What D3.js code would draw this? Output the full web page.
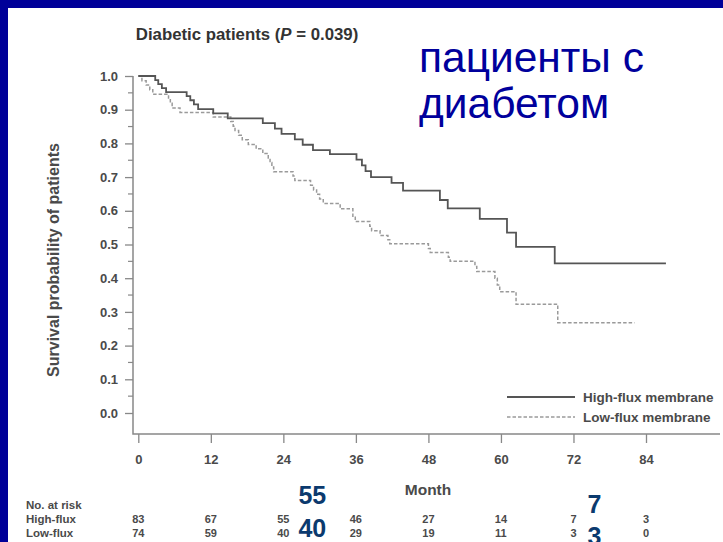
<!DOCTYPE html>
<html>
<head>
<meta charset="utf-8">
<script src="https://cdn.jsdelivr.net/npm/d3@7"></script>
<style>
  html, body { margin: 0; padding: 0; background: #fff; }
  svg { display: block; font-family: "Liberation Sans", Arial, sans-serif; }
</style>
</head>
<body>
<svg id="chart" width="723" height="542"></svg>
<script>
// Kaplan-Meier steps (month, survival after the drop)
const highTimes = [0, 2.8, 3.3, 3.9, 4.6, 8.0, 8.6, 9.2, 9.9, 12.4, 14.8, 20.6, 22.6, 23.7, 25.9, 27.2, 28.9, 31.7,
    36.1, 37.0, 37.6, 38.5, 41.9, 43.8, 49.9, 51.2, 56.5, 61.0, 62.5, 68.9, 87.3];
const highSurv = [1.0, 0.988, 0.976, 0.964, 0.952, 0.940, 0.928, 0.916, 0.902, 0.889, 0.874, 0.860, 0.844, 0.828, 0.812, 0.796, 0.780, 0.768,
    0.752, 0.735, 0.718, 0.700, 0.683, 0.660, 0.632, 0.607, 0.576, 0.535, 0.493, 0.444, 0.444];

const lowTimes = [0, 0.6, 1.3, 1.9, 2.4, 5.0, 5.3, 5.6, 6.9, 12.4, 15.3, 15.7, 16.0, 16.6, 17.2, 18.2, 19.5, 20.6, 21.5, 21.8, 22.1, 22.4,
    25.6, 25.9, 28.5, 29.0, 29.5, 30.0, 30.6, 33.4, 35.5, 35.9, 38.3, 38.6, 40.0, 41.3, 41.6, 48.0, 48.3, 51.3, 51.6, 55.7, 56.0,
    59.0, 59.4, 59.8, 62.5, 69.4, 82.1];
const lowSurv = [1.0, 0.986, 0.973, 0.959, 0.946, 0.932, 0.919, 0.905, 0.892, 0.878, 0.865, 0.851, 0.838, 0.824, 0.811, 0.797, 0.784, 0.770, 0.757, 0.743, 0.730, 0.716,
    0.703, 0.690, 0.676, 0.662, 0.649, 0.635, 0.622, 0.606, 0.581, 0.568, 0.554, 0.541, 0.527, 0.514, 0.502, 0.488, 0.476, 0.462, 0.450, 0.435, 0.420,
    0.400, 0.380, 0.360, 0.323, 0.268, 0.268];

const monthTicks = [0, 12, 24, 36, 48, 60, 72, 84];
const survTicks = [0, 0.1, 0.2, 0.3, 0.4, 0.5, 0.6, 0.7, 0.8, 0.9, 1.0];
const riskHigh = [83, 67, 55, 46, 27, 14, 7, 3];
const riskLow = [74, 59, 40, 29, 19, 11, 3, 0];
const seriesNames = ["High-flux membrane", "Low-flux membrane"];
const riskRows = ["High-flux", "Low-flux"];

const svg = d3.select("#chart");
const grey = "#4a4a4a";

const x = d3.scaleLinear().domain([0, 84]).range([138.3, 646]);
const y = d3.scaleLinear().domain([0, 1]).range([413, 76]);
const frameLeft = 133, frameBottom = 434, frameRight = 720;

// slide frame (blue band top and left)
svg.append("rect").attr("x", 0).attr("y", 0).attr("width", 723).attr("height", 8).attr("fill", "#000099");
svg.append("rect").attr("x", 0).attr("y", 0).attr("width", 8).attr("height", 542).attr("fill", "#000099");

// title
const title = svg.append("text")
    .attr("x", 247).attr("y", 40)
    .attr("text-anchor", "middle")
    .attr("font-size", 16.8).attr("font-weight", "bold").attr("fill", "#333");
title.append("tspan").text("Diabetic patients (");
title.append("tspan").attr("font-style", "italic").text("P");
title.append("tspan").text(" = 0.039)");

// russian caption
const cap = svg.append("text").attr("font-size", 42.5).attr("fill", "#00009c");
cap.append("tspan").attr("x", 419).attr("y", 72).text("пациенты с");
cap.append("tspan").attr("x", 419).attr("y", 118).text("диабетом");

// axes
const yAxis = svg.append("g")
    .attr("transform", `translate(${frameLeft},0)`)
    .call(d3.axisLeft(y).tickValues(survTicks).tickSize(8).tickPadding(7).tickFormat(d3.format(".1f")));
yAxis.select(".domain").remove();
yAxis.selectAll("line").attr("stroke", "#888").attr("stroke-width", 1.3);
yAxis.selectAll("text").attr("font-size", 13).attr("font-weight", "bold").attr("fill", grey)
    .attr("font-family", "'Liberation Sans', Arial, sans-serif");

// minor ticks
svg.append("g").selectAll("line")
    .data(survTicks.slice(0, -1).map(d => d + 0.05))
    .join("line")
    .attr("x1", frameLeft - 5).attr("x2", frameLeft)
    .attr("y1", d => y(d)).attr("y2", d => y(d))
    .attr("stroke", "#888").attr("stroke-width", 1.2);

const xAxis = svg.append("g")
    .attr("transform", `translate(0,${frameBottom})`)
    .call(d3.axisBottom(x).tickValues(monthTicks).tickSize(9).tickPadding(12));
xAxis.select(".domain").remove();
xAxis.selectAll("line").attr("stroke", "#888").attr("stroke-width", 1.3);
xAxis.selectAll("text").attr("font-size", 13).attr("font-weight", "bold").attr("fill", grey)
    .attr("font-family", "'Liberation Sans', Arial, sans-serif");

// frame lines
svg.append("path")
    .attr("d", `M${frameLeft},${y(1)}V${frameBottom}H${frameRight}`)
    .attr("fill", "none").attr("stroke", "#888").attr("stroke-width", 1.5);

// axis titles
svg.append("text")
    .attr("transform", "translate(59,260) rotate(-90)")
    .attr("text-anchor", "middle")
    .attr("font-size", 16).attr("font-weight", "bold").attr("fill", grey)
    .text("Survival probability of patients");

svg.append("text")
    .attr("x", 428).attr("y", 495)
    .attr("text-anchor", "middle")
    .attr("font-size", 15.5).attr("font-weight", "bold").attr("fill", grey)
    .text("Month");

// curves
const step = d3.line().x(d => x(d[0])).y(d => y(d[1])).curve(d3.curveStepAfter);

svg.append("path")
    .datum(lowTimes.map((t, i) => [t, lowSurv[i]]))
    .attr("d", step)
    .attr("fill", "none").attr("stroke", "#9a9a9a").attr("stroke-width", 1.5)
    .attr("stroke-dasharray", "3.5,2");

svg.append("path")
    .datum(highTimes.map((t, i) => [t, highSurv[i]]))
    .attr("d", step)
    .attr("fill", "none").attr("stroke", "#555").attr("stroke-width", 1.8);

// legend
const legend = svg.append("g");
seriesNames.forEach((name, i) => {
    const ly = 397 + i * 20;
    legend.append("line")
        .attr("x1", 507).attr("x2", 575).attr("y1", ly).attr("y2", ly)
        .attr("stroke", i === 0 ? "#555" : "#9a9a9a")
        .attr("stroke-width", i === 0 ? 1.8 : 1.5)
        .attr("stroke-dasharray", i === 0 ? null : "3.5,2");
    legend.append("text")
        .attr("x", 583).attr("y", ly + 5)
        .attr("font-size", 13.5).attr("font-weight", "bold").attr("fill", grey)
        .text(name);
});

// number at risk table
svg.append("text").attr("x", 26).attr("y", 509)
    .attr("font-size", 11.5).attr("font-weight", "bold").attr("fill", grey)
    .text("No. at risk");

[riskHigh, riskLow].forEach((row, r) => {
    const ry = 523 + r * 14;
    svg.append("text").attr("x", 26).attr("y", ry)
        .attr("font-size", 11.5).attr("font-weight", "bold").attr("fill", grey)
        .text(riskRows[r]);
    svg.append("g").selectAll("text")
        .data(row)
        .join("text")
        .attr("x", (d, i) => x(monthTicks[i]))
        .attr("y", ry)
        .attr("text-anchor", "middle")
        .attr("font-size", 11).attr("font-weight", "bold").attr("fill", grey)
        .text(d => d);
});

// large overlay numbers at 24 and 72 months
const overlay = [
    { m: 24, i: 2 },
    { m: 72, i: 6 }
];
overlay.forEach(o => {
    const cx = x(o.m) + (o.m === 24 ? 29 : 21);
    svg.append("text").attr("x", cx).attr("y", o.m === 24 ? 504 : 513)
        .attr("text-anchor", "middle")
        .attr("font-size", 25).attr("font-weight", "bold").attr("fill", "#0b3a6e")
        .text(riskHigh[o.i]);
    svg.append("text").attr("x", cx).attr("y", o.m === 24 ? 537 : 545)
        .attr("text-anchor", "middle")
        .attr("font-size", 25).attr("font-weight", "bold").attr("fill", "#0b3a6e")
        .text(riskLow[o.i]);
});
</script>
</body>
</html>
